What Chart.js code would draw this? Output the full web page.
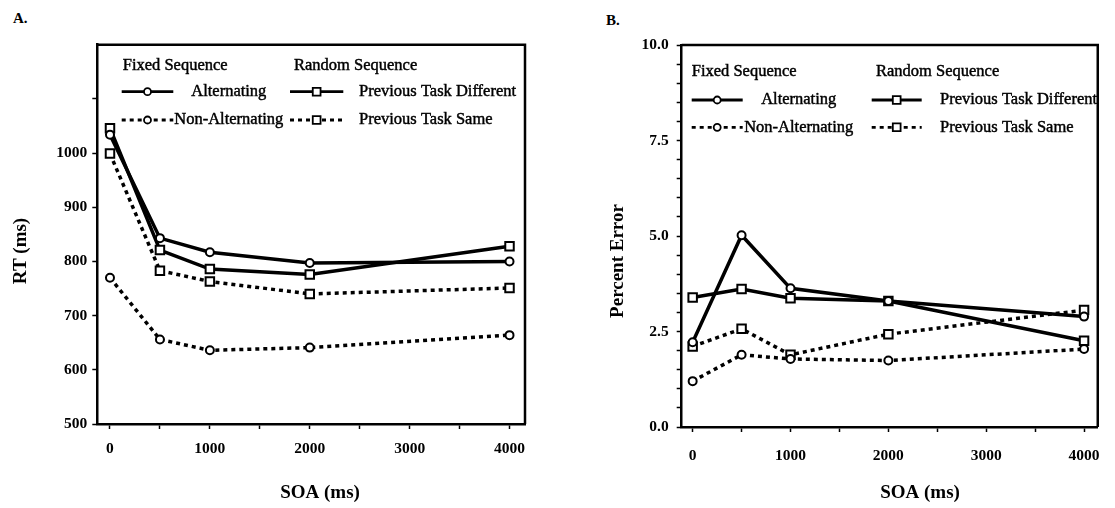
<!DOCTYPE html>
<html>
<head>
<meta charset="utf-8">
<script src="https://cdn.jsdelivr.net/npm/chart.js@4.4.1/dist/chart.umd.min.js"></script>
<style>
body { margin: 0; background: #fff; }
#wrap { position: relative; width: 1115px; height: 508px; }
canvas { position: absolute; top: 0; }
.panel { position: absolute; font: bold 15px "Liberation Serif"; color: #000; }
</style>
</head>
<body>
<div id="wrap">
  <div class="panel" style="left:13px;top:10px">A.</div>
  <div class="panel" style="left:606px;top:12px">B.</div>
  <canvas id="chartA" width="557" height="508" style="left:0"></canvas>
  <canvas id="chartB" width="558" height="508" style="left:557px"></canvas>
</div>
<script>
// SOA levels (ms)
var soa = [0, 500, 1000, 2000, 4000];

// panel A: reaction time (ms)
var rtAlternating    = [1034, 843, 817, 797, 800];
var rtNonAlternating = [770, 656, 636, 641, 664];
var rtTaskDifferent  = [1046, 821, 786, 776, 828];
var rtTaskSame       = [999, 783, 763, 740, 751];

// panel B: percent error
var errAlternating    = [2.22, 5.02, 3.63, 3.3, 2.89];
var errNonAlternating = [1.2, 1.89, 1.78, 1.74, 2.04];
var errTaskDifferent  = [3.39, 3.61, 3.37, 3.3, 2.26];
var errTaskSame       = [2.11, 2.57, 1.89, 2.43, 3.06];

var seriesNames = ['Alternating', 'Non-Alternating', 'Previous Task Different', 'Previous Task Same'];
var groupNames = ['Fixed Sequence', 'Random Sequence'];

var soaTicks  = [0, 500, 1000, 1500, 2000, 2500, 3000, 3500, 4000];
var soaLabels = [0, 1000, 2000, 3000, 4000];
var rtTicks   = [500, 600, 700, 800, 900, 1000, 1100];
var rtLabels  = [500, 600, 700, 800, 900, 1000];
var errTicks  = [0, 0.5, 1, 1.5, 2, 2.5, 3, 3.5, 4, 4.5, 5, 5.5, 6, 6.5, 7, 7.5, 8, 8.5, 9, 9.5, 10];
var errLabels = [0, 2.5, 5, 7.5, 10];

var lineStyles = [
  { dash: [], point: 'circle', radius: 4 },
  { dash: [4, 4], point: 'circle', radius: 4 },
  { dash: [], point: 'rect', radius: 6 },
  { dash: [4, 4], point: 'rect', radius: 6 }
];

function makeSets(series) {
  return series.map(function (ys, i) {
    var s = lineStyles[i];
    return {
      label: seriesNames[i],
      data: soa.map(function (x, j) { return { x: x, y: ys[j] }; }),
      borderColor: '#000',
      borderWidth: 3.5,
      borderDash: s.dash,
      borderCapStyle: 'butt',
      pointStyle: s.point,
      pointRadius: s.radius,
      pointBorderWidth: 2,
      pointBackgroundColor: '#fff',
      pointBorderColor: '#000',
      tension: 0
    };
  });
}

function marker(ctx, style, x, y, r) {
  ctx.beginPath();
  if (style === 'circle') {
    ctx.arc(x, y, r, 0, Math.PI * 2);
  } else {
    var h = r * Math.SQRT1_2;
    ctx.rect(x - h, y - h, 2 * h, 2 * h);
  }
  ctx.fillStyle = '#fff';
  ctx.fill();
  ctx.lineWidth = 1.8;
  ctx.stroke();
}

// scanned text is a bit heavier than plain Times, so add a thin outline
function heavyText(ctx, s, x, y) {
  ctx.fillText(s, x, y);
  ctx.lineWidth = 0.45;
  ctx.strokeText(s, x, y);
}

// legend drawn inside the plot box, two columns with group headers
var insideLegend = {
  id: 'insideLegend',
  afterDraw: function (chart, args, o) {
    var ctx = chart.ctx, a = chart.chartArea;
    ctx.save();
    ctx.font = '16.5px "Liberation Serif"';
    ctx.fillStyle = '#000';
    ctx.strokeStyle = '#000';
    ctx.textBaseline = 'middle';
    ctx.textAlign = 'left';
    heavyText(ctx, groupNames[0], a.left + o.head1, a.top + o.headY);
    heavyText(ctx, groupNames[1], a.left + o.head2, a.top + o.headY);
    chart.data.datasets.forEach(function (ds, i) {
      var col = i < 2 ? o.col1 : o.col2;
      var y = a.top + o.rows[i % 2];
      var x1 = a.left + col.x1, x2 = a.left + col.x2;
      ctx.lineWidth = 2.8;
      ctx.setLineDash(ds.borderDash);
      ctx.beginPath();
      ctx.moveTo(x1, y);
      ctx.lineTo(x2, y);
      ctx.stroke();
      ctx.setLineDash([]);
      marker(ctx, ds.pointStyle, (x1 + x2) / 2, y, ds.pointStyle === 'circle' ? 3.5 : 5.5);
      ctx.fillStyle = '#000';
      ctx.textAlign = col.align;
      heavyText(ctx, ds.label, a.left + col.text, y);
    });
    ctx.restore();
  }
};

// top and right sides of the plot box
var frame = {
  id: 'frame',
  beforeDatasetsDraw: function (chart) {
    var a = chart.chartArea, c = chart.ctx;
    c.save();
    c.strokeStyle = '#000';
    c.lineWidth = 2.5;
    c.beginPath();
    c.moveTo(a.left, a.top);
    c.lineTo(a.right, a.top);
    c.lineTo(a.right, a.bottom);
    c.stroke();
    c.restore();
  }
};

// axis titles placed where the original has them (not centred on the box)
var axisTitles = {
  id: 'axisTitles',
  afterDraw: function (chart, args, o) {
    var c = chart.ctx, sc = chart.options.scales;
    c.save();
    c.font = 'bold 19px "Liberation Serif"';
    c.fillStyle = '#000';
    c.textAlign = 'center';
    c.textBaseline = 'middle';
    c.fillText(sc.x.title.text, o.x[0], o.x[1]);
    c.translate(o.y[0], o.y[1]);
    c.rotate(-Math.PI / 2);
    c.fillText(sc.y.title.text, 0, 0);
    c.restore();
  }
};

function soaAxis(min, max, height, pad) {
  return {
    type: 'linear',
    min: min,
    max: max,
    afterBuildTicks: function (s) { s.ticks = soaTicks.map(function (v) { return { value: v }; }); },
    afterFit: function (s) { s.height = height; },
    ticks: {
      autoSkip: false, maxRotation: 0, padding: pad, color: '#000',
      font: { size: 15.5, weight: 'bold' },
      callback: function (v) { return soaLabels.indexOf(v) >= 0 ? String(v) : ''; }
    },
    grid: { drawOnChartArea: false, tickLength: 5, tickWidth: 1.5, tickColor: '#000' },
    border: { display: true, color: '#000', width: 2.5 },
    title: { display: false, text: 'SOA (ms)' }
  };
}

function valueAxis(min, max, width, ticks, labels, digits, pad, name) {
  return {
    type: 'linear',
    min: min,
    max: max,
    afterBuildTicks: function (s) { s.ticks = ticks.map(function (v) { return { value: v }; }); },
    afterFit: function (s) { s.width = width; },
    ticks: {
      autoSkip: false, padding: pad, color: '#000',
      font: { size: 15.5, weight: 'bold' },
      callback: function (v) { return labels.indexOf(v) >= 0 ? v.toFixed(digits) : ''; }
    },
    grid: { drawOnChartArea: false, tickLength: 5, tickWidth: 1.5, tickColor: '#000' },
    border: { display: true, color: '#000', width: 2.5 },
    title: { display: false, text: name }
  };
}

Chart.defaults.font.family = '"Liberation Serif"';
Chart.defaults.color = '#000';

new Chart(document.getElementById('chartA'), {
  type: 'line',
  data: { datasets: makeSets([rtAlternating, rtNonAlternating, rtTaskDifferent, rtTaskSame]) },
  options: {
    responsive: false,
    animation: false,
    layout: { padding: { top: 44.7, right: 32, left: 0, bottom: 0 } },
    plugins: {
      legend: { display: false },
      tooltip: { enabled: false },
      insideLegend: {
        headY: 20.5, head1: 25.4, head2: 196.7, rows: [47, 75.3],
        col1: { x1: 24.4, x2: 76, text: 131.5, align: 'center' },
        col2: { x1: 192.7, x2: 246, text: 261.7, align: 'left' }
      },
      axisTitles: { x: [320, 493], y: [21, 251] }
    },
    scales: {
      x: soaAxis(-127, 4155, 84, 11),
      y: valueAxis(500, 1200, 97.3, rtTicks, rtLabels, 0, 5, 'RT (ms)')
    }
  },
  plugins: [frame, insideLegend, axisTitles]
});

new Chart(document.getElementById('chartB'), {
  type: 'line',
  data: { datasets: makeSets([errAlternating, errNonAlternating, errTaskDifferent, errTaskSame]) },
  options: {
    responsive: false,
    animation: false,
    layout: { padding: { top: 45, right: 13.3, left: 0, bottom: 0 } },
    plugins: {
      legend: { display: false },
      tooltip: { enabled: false },
      insideLegend: {
        headY: 26.2, head1: 10, head2: 194.3, rows: [55, 82.3],
        col1: { x1: 10, x2: 61, text: 117, align: 'center' },
        col2: { x1: 190, x2: 240, text: 258.3, align: 'left' }
      },
      axisTitles: { x: [363, 493], y: [61.4, 261] }
    },
    scales: {
      x: soaAxis(-112, 4140, 81, 15),
      y: valueAxis(0, 10, 124.7, errTicks, errLabels, 1, 8, 'Percent Error')
    }
  },
  plugins: [frame, insideLegend, axisTitles]
});
</script>
</body>
</html>
